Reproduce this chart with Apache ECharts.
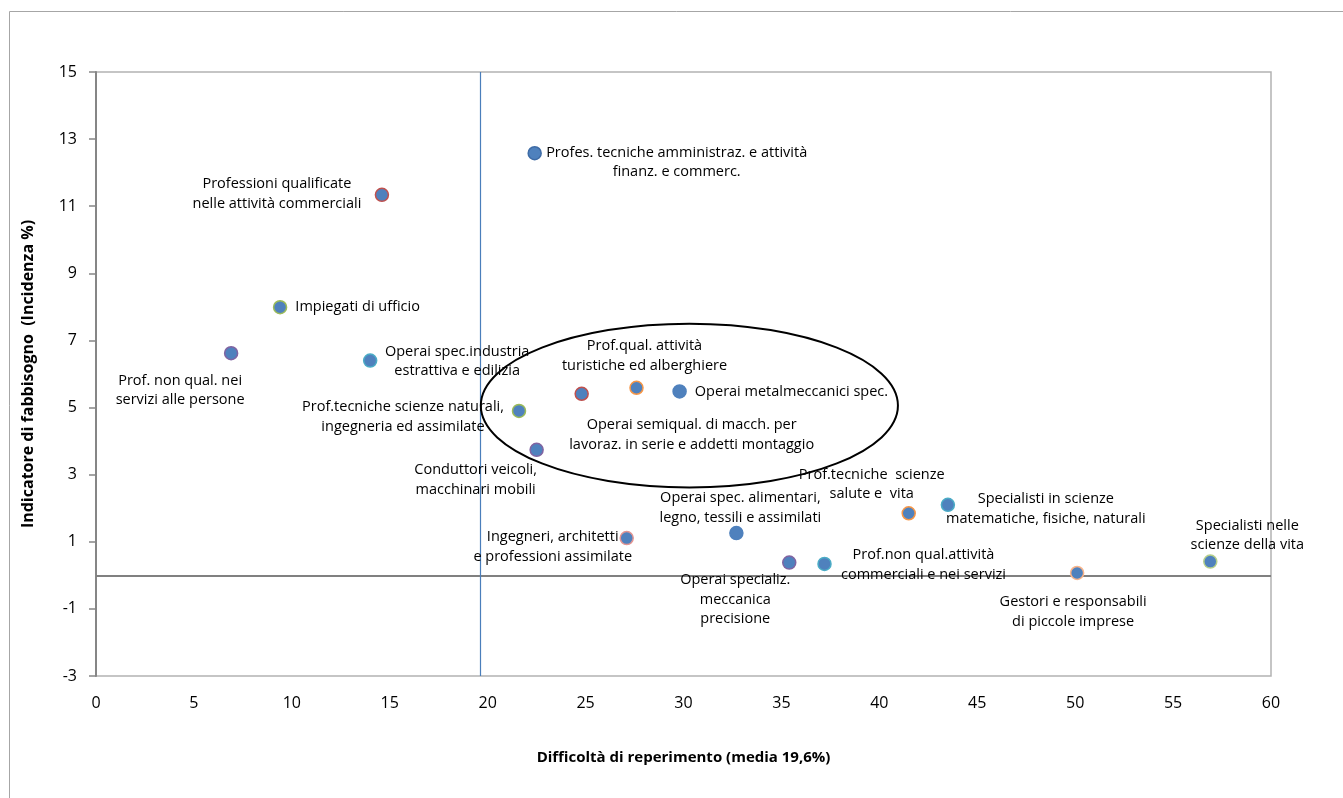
<!DOCTYPE html>
<html>
<head>
<meta charset="utf-8">
<title>Fabbisogno vs difficoltà di reperimento</title>
<script src="https://cdn.jsdelivr.net/npm/echarts@6/dist/echarts.min.js"></script>
<style>
  html, body { margin: 0; padding: 0; background: #fff; }
  #chart { width: 1343px; height: 798px; }
</style>
</head>
<body>
<div id="chart"></div>
<script>
// professioni (etichette come nel grafico originale)
const professioni = [
  "Profes. tecniche amministraz. e attività\nfinanz. e commerc.",
  "Professioni qualificate\nnelle attività commerciali",
  "Impiegati di ufficio",
  "Prof. non qual. nei\nservizi alle persone",
  "Operai spec.industria\nestrattiva e edilizia",
  "Prof.tecniche scienze naturali,\ningegneria ed assimilate",
  "Conduttori veicoli,\nmacchinari mobili",
  "Operai semiqual. di macch. per\nlavoraz. in serie e addetti montaggio",
  "Prof.qual. attività\nturistiche ed alberghiere",
  "Operai metalmeccanici spec.",
  "Ingegneri, architetti\ne professioni assimilate",
  "Operai spec. alimentari,\nlegno, tessili e assimilati",
  "Operai specializ.\nmeccanica\nprecisione",
  "Prof.non qual.attività\ncommerciali e nei servizi",
  "Prof.tecniche  scienze\nsalute e  vita",
  "Specialisti in scienze\nmatematiche, fisiche, naturali",
  "Gestori e responsabili\ndi piccole imprese",
  "Specialisti nelle\nscienze della vita"
];
// difficoltà di reperimento (%)
const difficolta = [22.4, 14.6, 9.4, 6.9, 14.0, 21.6, 22.5, 24.8, 27.6, 29.8,
                    27.1, 32.7, 35.4, 37.2, 41.5, 43.5, 50.1, 56.9];
// indicatore di fabbisogno (incidenza %)
const fabbisogno = [12.58, 11.34, 7.99, 6.62, 6.40, 4.90, 3.74, 5.41, 5.59, 5.48,
                    1.11, 1.26, 0.38, 0.34, 1.85, 2.10, 0.07, 0.41];
const mediaDifficolta = 19.6;
const xTicks = { min: 0, max: 60, step: 5 };
const yTicks = { min: -3, max: 15, step: 2 };

// stile: bordo dei marker
const bordi = ["#3F6CA6", "#C0504D", "#9BBB59", "#8064A2", "#4BACC6", "#9BBB59",
               "#8064A2", "#C0504D", "#F79646", "#4F81BD", "#E39592", "#4F81BD",
               "#8064A2", "#4BACC6", "#F79646", "#4BACC6", "#F9B48A", "#B5CF8A"];
// posizione delle etichette: [dx, dy] dal punto, oppure "right"
const posEtichette = [
  [142, 9], [-105, -1], "right", [-51, 37], [87, 1], [-116, 6], [-61, 30],
  [110, 41], [8, -32], "right", [-74, 9], [4, -25], [-54, 37], [99, 1],
  [-37, -29], [98, 4], [-4, 39], [37, -26]
];
// ellisse che raggruppa i punti centrali (in unità dei dati)
const ellisse = { cx: 30.3, cy: 5.06, rx: 10.65, ry: 2.44 };

const font = "Open Sans";
const chart = echarts.init(document.getElementById("chart"));

const punti = professioni.map((nome, i) => {
  const p = posEtichette[i];
  const label = p === "right"
    ? { position: "right", distance: 8, align: "left", verticalAlign: "middle" }
    : { position: "inside", offset: p, align: "center", verticalAlign: "middle" };
  return {
    name: nome,
    value: [difficolta[i], fabbisogno[i]],
    itemStyle: { borderColor: bordi[i] },
    label: label
  };
});

const cornice = {
  type: "rect",
  shape: { x: 9.5, y: 11.5, width: 1400, height: 900 },
  style: { fill: null, stroke: "#A6A6A6", lineWidth: 1 },
  z: -10
};

chart.setOption({
  animation: false,
  textStyle: { fontFamily: font },
  graphic: [cornice],
  grid: {
    left: 96, top: 72, right: 72, bottom: 122,
    show: true, borderColor: "#B3B3B3", borderWidth: 1.5
  },
  xAxis: {
    type: "value",
    min: xTicks.min, max: xTicks.max, interval: xTicks.step,
    name: "Difficoltà di reperimento (media 19,6%)",
    nameLocation: "middle", nameGap: 74,
    nameTextStyle: { fontFamily: font, fontWeight: "bold", fontSize: 15, color: "#000" },
    axisLine: { show: false },
    axisTick: { show: false },
    splitLine: { show: false },
    axisLabel: { margin: 19, fontSize: 16, color: "#000", fontFamily: font }
  },
  yAxis: {
    type: "value",
    min: yTicks.min, max: yTicks.max, interval: yTicks.step,
    name: "Indicatore di fabbisogno  (Incidenza %)",
    nameLocation: "middle", nameGap: 60,
    nameTextStyle: { fontFamily: font, fontWeight: "bold", fontSize: 16, color: "#000" },
    axisLine: { show: true, onZero: false, lineStyle: { color: "#868686", width: 2 } },
    axisTick: { show: true, length: 7, lineStyle: { color: "#868686", width: 1.5 } },
    splitLine: { show: false },
    axisLabel: { margin: 19, fontSize: 16, color: "#000", fontFamily: font }
  },
  series: [{
    type: "scatter",
    symbol: "circle",
    symbolSize: 13,
    z: 3,
    itemStyle: { color: "#4F81BD", borderWidth: 1.5, opacity: 1 },
    label: {
      show: true,
      formatter: "{b}",
      color: "#000",
      fontFamily: font,
      fontSize: 14.5,
      lineHeight: 19.5
    },
    emphasis: { disabled: true },
    data: punti,
    markLine: {
      silent: true,
      symbol: "none",
      z: 1,
      label: { show: false },
      emphasis: { disabled: true },
      data: [
        { yAxis: 0, lineStyle: { color: "#808080", width: 2, type: "solid" } },
        { xAxis: mediaDifficolta, lineStyle: { color: "#4A7EBB", width: 1.2, type: "solid" } }
      ]
    }
  }]
});

// ellisse posizionata con le scale del grafico
const c = chart.convertToPixel({ gridIndex: 0 }, [ellisse.cx, ellisse.cy]);
const e = chart.convertToPixel({ gridIndex: 0 }, [ellisse.cx + ellisse.rx, ellisse.cy + ellisse.ry]);
chart.setOption({
  graphic: [cornice, {
    type: "ellipse",
    shape: { cx: c[0], cy: c[1], rx: e[0] - c[0], ry: c[1] - e[1] },
    style: { fill: null, stroke: "#000", lineWidth: 2 },
    z: 10
  }]
});
</script>
</body>
</html>
